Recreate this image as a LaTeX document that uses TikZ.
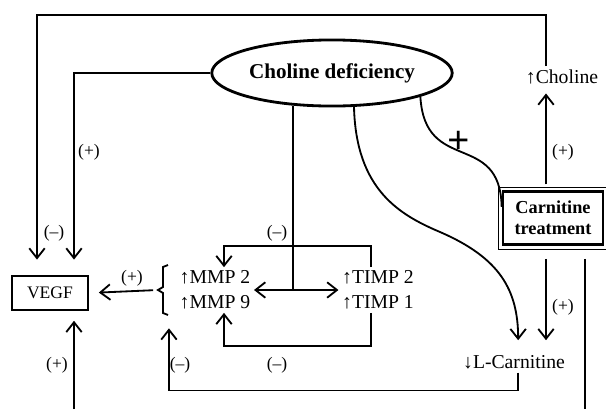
\documentclass[tikz,border=0pt]{standalone}
\usepackage{fontspec}
\setmainfont{Liberation Serif}
\usetikzlibrary{arrows.meta,positioning,shapes.geometric,calc}

\begin{document}
\begin{tikzpicture}[x=0.025cm, y=-0.025cm, line width=1.3pt,
        every node/.style={font=\fontsize{14}{17.5}\selectfont}]
        \tikzstyle{arr} = [-{Straight Barb[length=7pt,width=11pt]}]
        \tikzstyle{twoArr} = [{Straight Barb[length=7pt,width=11pt]}-{Straight Barb[length=7pt,width=11pt]}]
        \tikzstyle{sign} = [font=\fontsize{12.5}{14}\selectfont, inner sep=0pt]
        \tikzstyle{group} = [align=left, inner sep=2pt]
        \useasboundingbox (0,0) rectangle (606,409);
        \node[ellipse, draw, line width=2pt, minimum width=171pt, minimum height=47pt,
            inner sep=0pt, font=\fontsize{15}{18}\selectfont\bfseries] (cd) at (332,73) {Choline deficiency};
        \node[draw, line width=1.5pt, minimum width=54pt, minimum height=24pt,
            inner sep=0pt, font=\fontsize{12.5}{14}\selectfont] (vegf) at (50,293) {VEGF};
        \node[group] (mmp) at (215,290) {↑MMP 2\\↑MMP 9};
        \node[group, align=center] (timp) at (378,290) {↑TIMP 2\\↑TIMP 1};
        \node[draw, line width=2pt, minimum width=71pt, minimum height=38pt, inner sep=0pt,
            align=center, font=\fontsize{13}{15}\selectfont\bfseries] (ct) at (553,218) {Carnitine\\treatment};
        \node[inner sep=2pt] (chol) at (562,77) {↑Choline};
        \node[inner sep=2pt] (lcar) at (514,362) {↓L-Carnitine};
        \draw[line width=0.5pt] ([shift={(-3,-3)}]ct.north west) rectangle ([shift={(3,3)}]ct.south east);
        \coordinate (tl) at (37,15);
        \coordinate (tr) at (546,15);
        \coordinate (hub) at (295,290);
        \coordinate (brk) at (158,290);
        \coordinate (bl) at (74,409);
        \coordinate (br) at (585,409);
        % signs on the arrows
        \foreach \nm/\x/\y/\txt in {sa/54/233/(--), sb/89/152/(+), sc/132/278/(+), sd/57/365/(+),
                                   se/180/365/(--), sf/277/233/(--), sg/277/365/(--),
                                   sh/563/152/(+), si/563/307/(+)}
            \node[sign] (\nm) at (\x,\y) {\txt};
        \node[font=\fontsize{28}{28}\selectfont\bfseries, inner sep=0pt] (plus) at (459,142) {+};
        % bracket of the MMP group
        \draw (168,265) -- (163,267) -- (163,287) -- (brk) -- (163,293) -- (163,313) -- (168,315);
        % connectors
        \draw[arr, shorten >=11pt] (chol.north -| tr) -- (tr) -- (tl) -- (tl |- vegf.north);
        \draw[arr, shorten >=11pt] (cd.west) -| ($(vegf.north)+(24,0)$);
        \draw[arr, shorten >=7pt] (bl) -- (bl |- vegf.south);
        \draw[arr, shorten <=3.5pt, shorten >=7pt] (brk) -- (vegf.east);
        \draw (cd.220) -- (cd.220 |- hub);
        \draw[twoArr] (mmp.east) -- (timp.west);
        \draw[arr] ([xshift=-5pt]timp.north) -- ++(0,-21) -| ([xshift=6.4pt]mmp.north);
        \draw[arr] ([xshift=-5pt]timp.south) -- ++(0,33) -| ([xshift=6.4pt]mmp.south);
        \draw[arr, shorten >=11pt] ([xshift=3pt]lcar.south) -- ++(0,18) -| ([xshift=-5pt]mmp.south west);
        \draw[arr, shorten >=8pt] (cd.-57) .. controls (356,190) and (400,215) .. (440,232)
            .. controls (500,258) and (518,290) .. ([xshift=3pt]lcar.north);
        \draw (cd.-15) .. controls (425,175) and (500,130) .. ([yshift=8pt]ct.west);
        \draw[arr, shorten <=4pt, shorten >=4pt] (ct.north -| tr) -- (chol.south -| tr);
        \draw[arr, shorten <=9pt, shorten >=8pt] (ct.south -| tr) -- (lcar.north -| tr);
        \draw[shorten <=9pt] (ct.south -| br) -- (br);
    \end{tikzpicture}
\end{document}
